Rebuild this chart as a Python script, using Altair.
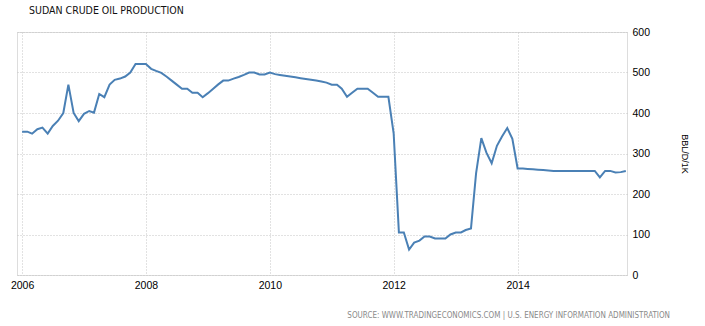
import altair as alt
import pandas as pd

# Monthly crude oil production (BBL/D/1K), Jan 2006 - Oct 2015
y2006 = [354, 354, 349, 360, 364, 349, 368, 381, 400, 470, 400, 380]
y2007 = [398, 405, 401, 447, 439, 470, 482, 485, 490, 500, 521, 521]
y2008 = [521, 509, 504, 499, 490, 480, 470, 460, 460, 450, 450, 439]
y2009 = [449, 460, 470, 480, 480, 485, 489, 494, 500, 500, 495, 495]
y2010 = [500, 496, 494, 492, 490, 488, 486, 484, 482, 480, 478, 475]
y2011 = [470, 470, 460, 440, 450, 460, 460, 460, 450, 440, 440, 440]
y2012 = [350, 105, 105, 63, 80, 85, 95, 95, 90, 90, 90, 100]
y2013 = [105, 105, 111, 115, 251, 338, 302, 276, 319, 342, 363, 336]
y2014 = [263, 263, 262, 261, 260, 259, 258, 257, 257, 257, 257, 257]
y2015 = [257, 257, 257, 257, 241, 257, 257, 253, 254, 257]

values = y2006 + y2007 + y2008 + y2009 + y2010 + y2011 + y2012 + y2013 + y2014 + y2015
dates = pd.date_range("2006-01-01", periods=len(values), freq="MS")
df = pd.DataFrame({"date": dates, "value": values})

tick_years = [2006, 2008, 2010, 2012, 2014]
y_ticks = [0, 100, 200, 300, 400, 500, 600]

title_text = "SUDAN CRUDE OIL PRODUCTION"
source_text = "SOURCE: WWW.TRADINGECONOMICS.COM | U.S. ENERGY INFORMATION ADMINISTRATION"
y_title = "BBL/D/1K"

FONT = "Liberation Sans Narrow, DejaVu Sans Condensed, Liberation Sans, sans-serif"
LFONT = "Liberation Sans, Arial, sans-serif"

line = alt.Chart(df).mark_line(color="#4a80b5", strokeWidth=2).encode(
    x=alt.X(
        "date:T",
        scale=alt.Scale(domain=[alt.DateTime(year=2005, month=12, date=2),
                                alt.DateTime(year=2015, month=10, date=8)]),
        axis=alt.Axis(
            values=[alt.DateTime(year=y) for y in tick_years],
            format="%Y",
            title=None,
            domain=False,
            ticks=False,
            grid=True,
            gridColor="#c4c4c4",
            gridDash=[1, 2],
            gridWidth=1,
            labelFont=LFONT,
            labelFontSize=10.5,
            labelColor="#000",
            labelPadding=5,
            labelAlign="center",
        ),
    ),
    y=alt.Y(
        "value:Q",
        scale=alt.Scale(domain=[0, 600], nice=False),
        axis=alt.Axis(
            orient="right",
            values=y_ticks,
            title=y_title,
            titleFont=LFONT,
            titleFontSize=9,
            titleFontWeight="normal",
            titleColor="#000",
            titlePadding=30,
            domain=False,
            ticks=False,
            grid=True,
            gridColor="#c4c4c4",
            gridDash=[1, 2],
            gridWidth=1,
            labelFont=LFONT,
            labelFontSize=10.5,
            labelColor="#000",
            labelPadding=5,
        ),
    ),
)

source = alt.Chart(pd.DataFrame({"t": [source_text]})).mark_text(
    align="right", baseline="middle", fontSize=8, font=FONT, color="#8a8a8a"
).encode(x=alt.value(653), y=alt.value(284), text="t:N")

chart = alt.layer(line, source).properties(
    width=610,
    height=243,
    autosize=alt.AutoSizeParams(type="none"),
    padding={"left": 17, "top": 32, "right": 78, "bottom": 51},
    title=alt.TitleParams(
        text=title_text,
        anchor="start",
        frame="group",
        dx=12,
        offset=11,
        font=FONT,
        fontSize=10.5,
        fontWeight="normal",
        color="#111",
    ),
).configure_view(stroke=None).configure(background="white")

chart.save("out.html", embed_options={"renderer": "svg", "actions": False})
